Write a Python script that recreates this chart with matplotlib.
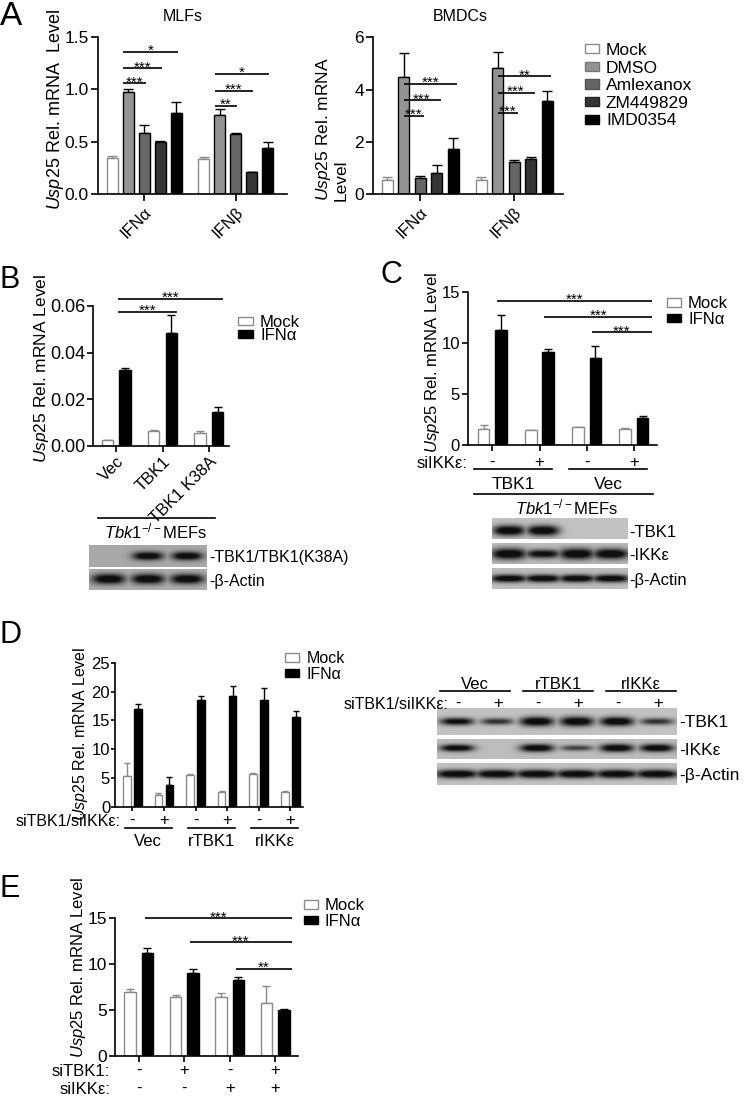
import numpy as np
import matplotlib
matplotlib.use('Agg')
import matplotlib.pyplot as plt
from matplotlib.patches import Rectangle
from matplotlib.lines import Line2D

plt.rcParams['font.family'] = ['Liberation Sans', 'DejaVu Sans']
plt.rcParams['mathtext.fontset'] = 'custom'
plt.rcParams['mathtext.rm'] = 'Liberation Sans'
plt.rcParams['mathtext.it'] = 'Liberation Sans:italic'
plt.rcParams['mathtext.bf'] = 'Liberation Sans:bold'

# ------------------------- DATA -------------------------
# Panel A
a_treatments = ['Mock', 'DMSO', 'Amlexanox', 'ZM449829', 'IMD0354']
a_colors = ['#ffffff', '#939393', '#666666', '#353535', '#000000']
a_groups = ['IFNα', 'IFNβ']
mlf_ifna = [0.34, 0.97, 0.58, 0.50, 0.77]
mlf_ifna_err = [0.025, 0.03, 0.075, 0.005, 0.105]
mlf_ifnb = [0.334, 0.755, 0.573, 0.207, 0.442]
mlf_ifnb_err = [0.022, 0.055, 0.01, 0.005, 0.058]
bmdc_ifna = [0.52, 4.47, 0.61, 0.82, 1.71]
bmdc_ifna_err = [0.13, 0.92, 0.07, 0.29, 0.43]
bmdc_ifnb = [0.52, 4.82, 1.24, 1.34, 3.55]
bmdc_ifnb_err = [0.13, 0.61, 0.06, 0.07, 0.40]
# (group, bar from, bar to, y, label)
mlf_sig = [(0, 1, 2, 1.057, '***'), (0, 1, 3, 1.20, '***'), (0, 1, 4, 1.36, '*'),
           (1, 1, 2, 0.84, '**'), (1, 1, 3, 0.987, '***'), (1, 1, 4, 1.146, '*')]
bmdc_sig = [(0, 1, 2, 2.99, '***'), (0, 1, 3, 3.59, '***'), (0, 1, 4, 4.23, '***'),
            (1, 1, 2, 3.12, '***'), (1, 1, 3, 3.86, '***'), (1, 1, 4, 4.50, '**')]

# Panel B
b_groups = ['Vec', 'TBK1', 'TBK1 K38A']
b_mock = [0.0023, 0.0064, 0.0053]
b_mock_err = [0.0002, 0.0003, 0.0009]
b_ifn = [0.0325, 0.0483, 0.0145]
b_ifn_err = [0.0007, 0.0077, 0.0020]
b_sig = [(0, 1, 0.0574, '***'), (0, 2, 0.0632, '***')]
b_blot_labels = ['-TBK1/TBK1(K38A)', '-β-Actin']
b_blot_tbk1 = [0.0, 0.95, 0.95]
b_blot_actin = [1.0, 0.95, 0.9]

# Panel C
c_sikke = ['-', '+', '-', '+']
c_constructs = ['TBK1', 'Vec']
c_mock = [1.53, 1.43, 1.73, 1.57]
c_mock_err = [0.39, 0.07, 0.06, 0.06]
c_ifn = [11.25, 9.13, 8.48, 2.61]
c_ifn_err = [1.43, 0.23, 1.24, 0.19]
c_sig = [(0, 3, 14.12, '***'), (1, 3, 12.55, '***'), (2, 3, 11.02, '***')]
c_blot_labels = ['-TBK1', '-IKKε', '-β-Actin']
c_blot_tbk1 = [1.0, 1.0, 0.0, 0.0]
c_blot_ikke = [1.0, 0.6, 1.0, 0.9]
c_blot_actin = [0.85, 0.85, 0.85, 0.85]

# Panel D
d_si = ['-', '+', '-', '+', '-', '+']
d_constructs = ['Vec', 'rTBK1', 'rIKKε']
d_mock = [5.38, 2.03, 5.5, 2.6, 5.7, 2.6]
d_mock_err = [2.14, 0.28, 0.1, 0.06, 0.1, 0.15]
d_ifn = [16.9, 3.82, 18.5, 19.2, 18.5, 15.6]
d_ifn_err = [0.9, 1.38, 0.7, 1.7, 2.05, 1.1]
d_blot_labels = ['-TBK1', '-IKKε', '-β-Actin']
d_blot_tbk1 = [0.6, 0.45, 0.95, 1.0, 0.9, 0.45]
d_blot_ikke = [0.65, 0.0, 0.8, 0.4, 0.85, 0.8]
d_blot_actin = [0.95, 0.95, 0.95, 0.95, 0.95, 0.95]

# Panel E
e_sitbk1 = ['-', '+', '-', '+']
e_sikke = ['-', '-', '+', '+']
e_mock = [6.9, 6.36, 6.43, 5.71]
e_mock_err = [0.33, 0.24, 0.37, 1.88]
e_ifn = [11.2, 8.96, 8.24, 4.95]
e_ifn_err = [0.47, 0.47, 0.33, 0.18]
e_sig = [(0, 3, 14.93, '***'), (1, 3, 12.32, '***'), (2, 3, 9.43, '**')]

legend_pair = ['Mock', 'IFNα']

# ------------------------- LAYOUT HELPERS -------------------------
W, H = 745, 1096
fig = plt.figure(figsize=(W / 100, H / 100), dpi=100)
PT = 100 / 72.0
MOCK_EC = '#8a8a8a'
YLAB = r'$\mathit{Usp25}$ Rel. mRNA Level'
MEFS = r'$\mathit{Tbk1}^{\mathit{-/-}}$MEFs'


def px_axes(X0, X1, Ytop, Ybot):
    return fig.add_axes([X0 / W, 1 - Ybot / H, (X1 - X0) / W, (Ybot - Ytop) / H])


def T(x, y, s, fs, ha='left', c=0.358, **kw):
    yb = y + c * fs * PT
    fig.text(x / W, 1 - yb / H, s, fontsize=fs, ha=ha, va='baseline', **kw)


def hline(x0, x1, y, lw=1.2):
    fig.add_artist(Line2D([x0 / W, x1 / W], [1 - y / H, 1 - y / H],
                          transform=fig.transFigure, color='k', lw=lw))


def ylabel(x, y, s, fs, **kw):
    fig.text(x / W, 1 - y / H, s, rotation=90, ha='center', va='center', fontsize=fs, **kw)


def style(ax, yticks, ylabels, fs, ticklen=4):
    for s in ['top', 'right']:
        ax.spines[s].set_visible(False)
    for s in ['left', 'bottom']:
        ax.spines[s].set_linewidth(1.2)
    ax.set_yticks(yticks)
    ax.set_yticklabels(ylabels)
    ax.tick_params(axis='both', direction='out', length=ticklen, width=1.2,
                   labelsize=fs, pad=1.5)


def legend(x_sq, ycs, labels, fcs, ecs, sw, sh, x_text, fs):
    for yc, lab, fc, ec in zip(ycs, labels, fcs, ecs):
        fig.add_artist(Rectangle((x_sq / W, 1 - (yc + sh / 2) / H), sw / W, sh / H,
                                 transform=fig.transFigure, fc=fc, ec=ec, lw=1.0))
        T(x_text, yc, lab, fs)


def sig(ax, x0, x1, y, label, fs, dy=-2.2):
    ax.plot([x0, x1], [y, y], color='k', lw=1.2, clip_on=False, solid_capstyle='butt')
    ax.annotate(label, ((x0 + x1) / 2, y), xytext=(0, dy), textcoords='offset points',
                ha='center', va='baseline', fontsize=fs, annotation_clip=False)


def pair_chart(X0, X1, Ytop, Ybot, c0, step, off_px, w_px, mock, mock_err, ifn, ifn_err,
               ylim, cap=3):
    ax = px_axes(X0, X1, Ytop, Ybot)
    n = len(mock)
    pos = np.arange(n)
    ax.set_xlim((X0 - c0) / step, (X1 - c0) / step)
    ax.set_ylim(*ylim)
    off, w = off_px / step, w_px / step
    z = np.zeros(n)
    ax.bar(pos - off, mock, w, color='white', edgecolor=MOCK_EC, lw=1.0, zorder=2)
    ax.errorbar(pos - off, mock, yerr=[z, mock_err], fmt='none', ecolor=MOCK_EC,
                elinewidth=1.0, capsize=cap, capthick=1.0, zorder=1)
    ax.bar(pos + off, ifn, w, color='black', edgecolor='black', lw=1.0, zorder=2)
    ax.errorbar(pos + off, ifn, yerr=[z, ifn_err], fmt='none', ecolor='black',
                elinewidth=1.0, capsize=cap, capthick=1.0, zorder=1)
    ax.set_xticks(pos)
    ax.set_xticklabels([])
    return ax, pos, off, w, step


def blot_row(X0, X1, Ytop, Ybot, intens, bg=0.72, band_h=0.22, lane_fill=0.8, yc=0.5):
    ax = px_axes(X0, X1, Ytop, Ybot)
    ax.axis('off')
    nx, ny = int((X1 - X0) * 3), int((Ybot - Ytop) * 3)
    x = np.linspace(0, 1, nx)
    y = np.linspace(0, 1, ny)
    n = len(intens)
    dark = np.zeros((ny, nx))
    for i, v in enumerate(intens):
        if v <= 0:
            continue
        xc = (i + 0.5) / n
        hx = lane_fill / (2 * n)
        px = np.exp(-np.abs((x - xc) / hx) ** 3)
        bh = band_h * (0.45 + 0.55 * v)
        py = np.exp(-((y - yc) / bh) ** 2)
        dark = np.maximum(dark, np.clip(1.5 * v, 0, 1) * np.outer(py, px))
    dark = np.clip(dark * 1.25, 0, 1)
    img = bg * (1 - dark) + 0.06 * dark
    ax.imshow(img, cmap='gray', vmin=0, vmax=1, aspect='auto', interpolation='bilinear',
              extent=[0, 1, 1, 0])
    ax.set_xlim(0, 1)
    ax.set_ylim(1, 0)
    return ax


# ------------------------- PANEL A -------------------------
T(0, 13, 'A', 24)


def five_chart(X0, X1, Ytop, Ybot, c0, step, bstep, bw, ga, gae, gb, gbe, ylim, yt, ytl,
               sigs, x_start_px, x_end_px):
    ax = px_axes(X0, X1, Ytop, Ybot)
    ax.set_xlim((X0 - c0) / step, (X1 - c0) / step)
    ax.set_ylim(*ylim)
    groups = np.arange(2)
    vals = [ga, gb]
    errs = [gae, gbe]
    for k in range(5):
        xs = groups + (k - 2) * bstep / step
        hv = [vals[g][k] for g in groups]
        he = [errs[g][k] for g in groups]
        ec = MOCK_EC if k == 0 else 'black'
        ax.bar(xs, hv, bw / step, color=a_colors[k], edgecolor=ec, lw=1.0, zorder=2)
        ax.errorbar(xs, hv, yerr=[np.zeros(2), he], fmt='none', ecolor=ec,
                    elinewidth=1.0, capsize=3.5, capthick=1.0, zorder=1)
    style(ax, yt, ytl, 12.5, ticklen=5)
    ax.set_xticks(groups)
    ax.set_xticklabels(a_groups, rotation=45, ha='right', va='top',
                       rotation_mode='anchor', fontsize=12)
    ax.tick_params(axis='x', pad=3)
    for g, b0, b1, yv, lab in sigs:
        x0 = g + (b0 - 2) * bstep / step - x_start_px / step
        x1 = g + (b1 - 2) * bstep / step + x_end_px / step
        sig(ax, x0, x1, yv, lab, 11)
    return ax


five_chart(98, 287, 37, 194, 144, 91.6, 16, 11, mlf_ifna, mlf_ifna_err, mlf_ifnb, mlf_ifnb_err,
           (0, 1.5), [0, 0.5, 1.0, 1.5], ['0.0', '0.5', '1.0', '1.5'], mlf_sig, 5, 1.5)
T(183, 15, 'MLFs', 11.5, ha='center')
ylabel(55, 110, r'$\mathit{Usp25}$ Rel. mRNA  Level', 13)

five_chart(373, 563, 37.3, 194, 420, 94, 16.5, 11, bmdc_ifna, bmdc_ifna_err, bmdc_ifnb,
           bmdc_ifnb_err, (0, 6), [0, 2, 4, 6], ['0', '2', '4', '6'], bmdc_sig, 0, 4)
T(460, 15, 'BMDCs', 11.5, ha='center')
fig.text(331 / W, 1 - 201 / H, r'$\mathit{Usp25}$ Rel. mRNA' + '\nLevel', rotation=90,
         ha='center', va='bottom', multialignment='left', fontsize=12.5, linespacing=1.05)

legend(585, [48.8, 66.4, 84.0, 101.6, 119.2], a_treatments, a_colors,
       [MOCK_EC, '#777777', '#555555', '#222222', 'black'], 13.5, 9, 606, 12.5)

# ------------------------- PANEL B -------------------------
T(0, 277, 'B', 22)
axB, posB, offB, wB, stepB = pair_chart(93, 229, 306, 445.7, 116.3, 46.2, 8.8, 11.5,
                                        b_mock, b_mock_err, b_ifn, b_ifn_err, (0, 0.06))
style(axB, [0, 0.02, 0.04, 0.06], ['0.00', '0.02', '0.04', '0.06'], 13)
axB.set_xticks(posB)
axB.set_xticklabels(b_groups, rotation=45, ha='right', va='top', rotation_mode='anchor',
                    fontsize=12)
axB.tick_params(axis='x', pad=2)
for g0, g1, yv, lab in b_sig:
    sig(axB, posB[g0] + offB - wB / 2 - 1 / stepB, posB[g1] + offB + wB / 2, yv, lab, 11)
ylabel(42, 368, YLAB, 12.5)
legend(238, [321, 334], legend_pair, ['white', 'black'], [MOCK_EC, 'black'], 15, 8, 260, 12)
hline(98, 215, 518)
T(155, 532, MEFS, 12, ha='center')
blot_row(89, 207, 545, 567, b_blot_tbk1, bg=0.66, band_h=0.2, lane_fill=0.78, yc=0.5)
blot_row(89, 207, 569, 590, b_blot_actin, bg=0.68, band_h=0.24, lane_fill=0.85, yc=0.5)
T(209, 556, b_blot_labels[0], 11.5)
T(209, 580, b_blot_labels[1], 11.5)

# ------------------------- PANEL C -------------------------
T(380, 272, 'C', 22)
axC, posC, offC, wC, stepC = pair_chart(467.7, 657, 291.7, 445, 492.3, 47.2, 8.7, 11.7,
                                        c_mock, c_mock_err, c_ifn, c_ifn_err, (0, 15))
style(axC, [0, 5, 10, 15], ['0', '5', '10', '15'], 12)
for g0, g1, yv, lab in c_sig:
    sig(axC, posC[g0] + offC - wC / 2 + 2 / stepC, posC[g1] + offC + wC / 2 + 4 / stepC,
        yv, lab, 11)
ylabel(432, 362, YLAB, 12)
legend(667, [302.5, 318], legend_pair, ['white', 'black'], [MOCK_EC, 'black'], 13.5, 8.5,
       688, 12)
T(467, 462, 'siIKKε:', 12, ha='right')
for i, s in enumerate(c_sikke):
    T(492.3 + i * 47.2, 462, s, 12, ha='center', c=0.3)
hline(474, 552, 469)
hline(569, 647, 469)
T(513, 483, c_constructs[0], 12.5, ha='center')
T(608, 483, c_constructs[1], 12.5, ha='center')
hline(474, 653, 494)
T(566, 508, MEFS, 12, ha='center')
blot_row(491.7, 627.7, 518, 539, c_blot_tbk1, bg=0.76, band_h=0.25, lane_fill=0.95, yc=0.6)
blot_row(491.7, 627.7, 543, 564, c_blot_ikke, bg=0.74, band_h=0.27, lane_fill=1.05, yc=0.52)
blot_row(491.7, 627.7, 568, 589, c_blot_actin, bg=0.74, band_h=0.2, lane_fill=1.1, yc=0.5)
T(629, 531, c_blot_labels[0], 12)
T(629, 554, c_blot_labels[1], 12)
T(629, 579, c_blot_labels[2], 12)

# ------------------------- PANEL D -------------------------
T(0, 632, 'D', 22)
axD, posD, offD, wD, stepD = pair_chart(115, 303, 662.7, 806.7, 132.3, 31.6, 5.5, 7.5,
                                        d_mock, d_mock_err, d_ifn, d_ifn_err, (0, 25), cap=2.5)
style(axD, [0, 5, 10, 15, 20, 25], ['0', '5', '10', '15', '20', '25'], 12, ticklen=3)
axD.tick_params(axis='y', pad=0.5)
ylabel(80, 734, YLAB, 11.5)
legend(285, [657.5, 673], legend_pair, ['white', 'black'], [MOCK_EC, 'black'], 13.5, 8.5,
       307, 11.5)
T(121, 820, 'siTBK1/siIKKε:', 11.5, ha='right')
for i, s in enumerate(d_si):
    T(132.3 + i * 31.6, 820, s, 12, ha='center', c=0.3)
for j, lab in enumerate(d_constructs):
    xc = 148.1 + j * 63.2
    hline(xc - 23.5, xc + 23.5, 828)
    T(xc, 840, lab, 12, ha='center')
# D blot
for j, lab in enumerate(d_constructs):
    xc = 475 + j * 83
    hline(xc - 35, xc + 35, 691)
    T(xc, 683, lab, 12, ha='center')
T(449, 703, 'siTBK1/siIKKε:', 11.5, ha='right')
for i, s in enumerate(d_si):
    T(458 + i * 40, 703, s, 12, ha='center', c=0.3)
blot_row(437, 677, 708, 735, d_blot_tbk1, bg=0.76, band_h=0.18, lane_fill=0.85, yc=0.5)
blot_row(437, 677, 739, 759, d_blot_ikke, bg=0.74, band_h=0.22, lane_fill=0.85, yc=0.45)
blot_row(437, 677, 763, 785, d_blot_actin, bg=0.76, band_h=0.2, lane_fill=1.1, yc=0.5)
T(679, 721, d_blot_labels[0], 12.5)
T(679, 749, d_blot_labels[1], 12.5)
T(679, 774, d_blot_labels[2], 12.5)

# ------------------------- PANEL E -------------------------
T(0, 886, 'E', 22)
axE, posE, offE, wE, stepE = pair_chart(115, 297.7, 917.7, 1056, 138.7, 45.5, 8.7, 11.5,
                                        e_mock, e_mock_err, e_ifn, e_ifn_err, (0, 15))
style(axE, [0, 5, 10, 15], ['0', '5', '10', '15'], 12.5)
for g0, g1, yv, lab in e_sig:
    sig(axE, posE[g0] + offE - wE / 2 + 3 / stepE, posE[g1] + offE + wE / 2 + 2 / stepE,
        yv, lab, 11)
ylabel(78, 967, YLAB, 12)
legend(304, [904.5, 920], legend_pair, ['white', 'black'], [MOCK_EC, 'black'], 14, 8.5,
       325, 12)
T(110, 1070, 'siTBK1:', 12, ha='right')
T(110, 1088, 'siIKKε:', 12, ha='right')
for i, (s1, s2) in enumerate(zip(e_sitbk1, e_sikke)):
    T(138.7 + i * 45.5, 1070, s1, 12, ha='center', c=0.3)
    T(138.7 + i * 45.5, 1088, s2, 12, ha='center', c=0.3)

fig.savefig('out.png', dpi=100)
